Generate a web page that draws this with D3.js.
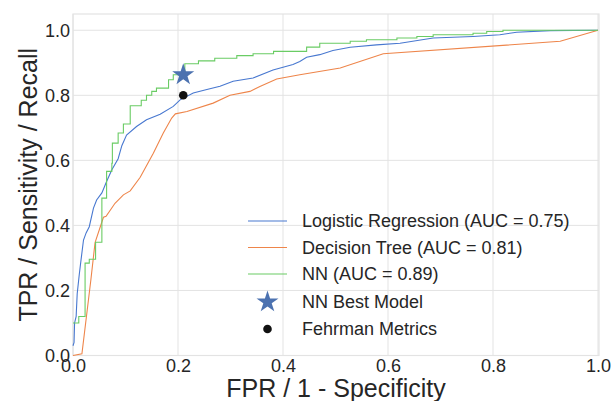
<!DOCTYPE html>
<html><head><meta charset="utf-8">
<script src="https://d3js.org/d3.v7.min.js"></script>
<style>body{margin:0;background:#fff}svg{display:block}text{font-family:"Liberation Sans",Arial,sans-serif;fill:#262626}</style>
</head><body><svg id="c" width="612" height="401"></svg>
<script>
const ticks = [0, 0.2, 0.4, 0.6, 0.8, 1.0];
const tickLabels = ["0.0", "0.2", "0.4", "0.6", "0.8", "1.0"];
const seriesNames = ["Logistic Regression (AUC = 0.75)", "Decision Tree (AUC = 0.81)", "NN (AUC = 0.89)"];
const lrFpr = [0,0.002,0.003,0.006,0.008,0.012,0.015,0.02,0.025,0.031,0.039,0.045,0.055,0.064,0.074,0.086,0.093,0.102,0.121,0.14,0.166,0.191,0.204,0.229,0.255,0.28,0.305,0.343,0.381,0.419,0.432,0.445,0.47,0.495,0.528,0.578,0.623,0.686,0.762,0.813,0.845,0.909,1.0];
const lrTpr = [0.03,0.04,0.10,0.12,0.19,0.25,0.29,0.355,0.377,0.396,0.453,0.478,0.50,0.535,0.571,0.605,0.645,0.678,0.704,0.725,0.742,0.766,0.786,0.807,0.818,0.828,0.843,0.853,0.878,0.895,0.904,0.917,0.925,0.938,0.948,0.955,0.96,0.976,0.981,0.986,0.994,0.999,1.0];
const dtFpr = [0,0.017,0.034,0.042,0.058,0.063,0.08,0.096,0.109,0.128,0.153,0.172,0.188,0.195,0.217,0.267,0.299,0.337,0.356,0.388,0.432,0.509,0.591,0.928,1.0];
const dtTpr = [0,0.005,0.232,0.347,0.425,0.428,0.468,0.494,0.506,0.548,0.622,0.684,0.73,0.743,0.75,0.776,0.80,0.812,0.827,0.85,0.863,0.884,0.928,0.966,1.0];
// NN step curve: FPR where each jump happens, and TPR after the jump
const nnFpr = [0,0.011,0.023,0.031,0.043,0.055,0.064,0.074,0.075,0.086,0.096,0.109,0.130,0.140,0.150,0.159,0.182,0.191,0.205,0.213,0.239,0.27,0.312,0.343,0.382,0.445,0.47,0.528,0.559,0.617,0.655,0.686,0.762,0.788,0.819,1.0];
const nnTpr = [0.10,0.12,0.284,0.296,0.348,0.484,0.566,0.591,0.653,0.684,0.712,0.768,0.785,0.80,0.812,0.822,0.848,0.863,0.87,0.897,0.906,0.914,0.922,0.928,0.935,0.948,0.96,0.966,0.971,0.976,0.981,0.986,0.991,0.996,1.0,1.0];
const bestModel = [0.21, 0.863];
const fehrman = [0.21, 0.80];
const colors = ["#4878d0", "#ee854a", "#6acc64"];

const svg = d3.select("#c");
const L = 73, R = 599, T = 14, B = 355.5;
const x = d3.scaleLinear().domain([0, 1.0]).range([L, 598]);
const y = d3.scaleLinear().domain([0, 1.05]).range([B, T]);
const FONT = '"Liberation Sans",Arial,sans-serif';

// grid
const g = svg.append("g");
g.selectAll(".gx").data(ticks).enter().append("line")
  .attr("x1", d => x(d)).attr("x2", d => x(d)).attr("y1", T).attr("y2", B)
  .attr("stroke", "#e3e3e3").attr("stroke-width", 1);
g.selectAll(".gy").data(ticks).enter().append("line")
  .attr("x1", L).attr("x2", R).attr("y1", d => y(d)).attr("y2", d => y(d))
  .attr("stroke", "#e3e3e3").attr("stroke-width", 1);
g.append("rect").attr("x", L).attr("y", T).attr("width", R - L).attr("height", B - T)
  .attr("fill", "none").attr("stroke", "#e3e3e3").attr("stroke-width", 1.2);

// axes via d3.axis
const xAxis = d3.axisBottom(x).tickValues(ticks).tickFormat((d, i) => tickLabels[i]).tickSize(0).tickPadding(4);
const yAxis = d3.axisLeft(y).tickValues(ticks).tickFormat((d, i) => tickLabels[i]).tickSize(0).tickPadding(3);
const ax = svg.append("g").attr("transform", `translate(0,${B})`).call(xAxis);
const ay = svg.append("g").attr("transform", `translate(${L},0)`).call(yAxis);
[ax, ay].forEach(a => {
  a.select(".domain").remove();
  a.selectAll("text").style("font-size", "18px").attr("fill", "#262626").style("font-family", FONT);
});

const line = d3.line().x(d => x(d[0])).y(d => y(d[1]));
const stepLine = d3.line().x(d => x(d[0])).y(d => y(d[1])).curve(d3.curveStepAfter);
const series = [d3.zip(lrFpr, lrTpr), d3.zip(dtFpr, dtTpr), d3.zip(nnFpr, nnTpr)];
series.forEach((s, i) => {
  svg.append("path").datum(s).attr("d", i === 2 ? stepLine : line).attr("fill", "none")
    .attr("stroke", colors[i]).attr("stroke-width", 1.1);
});

// markers
const star = d3.symbol().type(d3.symbolStar).size(150);
svg.append("path").attr("d", star()).attr("transform", `translate(${x(bestModel[0])},${y(bestModel[1])})`).attr("fill", "#4c72b0");
svg.append("circle").attr("cx", x(fehrman[0])).attr("cy", y(fehrman[1])).attr("r", 4.3).attr("fill", "#111");

// legend
const legY = [221, 247.5, 274, 302, 329];
const legLabels = seriesNames.concat(["NN Best Model", "Fehrman Metrics"]);
legLabels.forEach((t, i) => {
  if (i < 3) {
    svg.append("line").attr("x1", 248).attr("x2", 287).attr("y1", legY[i]).attr("y2", legY[i])
      .attr("stroke", colors[i]).attr("stroke-width", 1.1);
  } else if (i === 3) {
    svg.append("path").attr("d", star()).attr("transform", `translate(267.5,${legY[i]})`).attr("fill", "#4c72b0");
  } else {
    svg.append("circle").attr("cx", 267.5).attr("cy", legY[i]).attr("r", 4.3).attr("fill", "#111");
  }
  svg.append("text").attr("x", 302).attr("y", legY[i]).attr("dy", "0.35em")
    .style("font-size", "18px").text(t);
});

// axis titles
svg.append("text").attr("x", (L + R) / 2).attr("y", 397).attr("text-anchor", "middle")
  .style("font-size", "25px").text("FPR / 1 - Specificity");
svg.append("text").attr("transform", `translate(37,${(T + B) / 2}) rotate(-90)`).attr("text-anchor", "middle")
  .style("font-size", "25px").text("TPR / Sensitivity / Recall");
</script></body></html>
